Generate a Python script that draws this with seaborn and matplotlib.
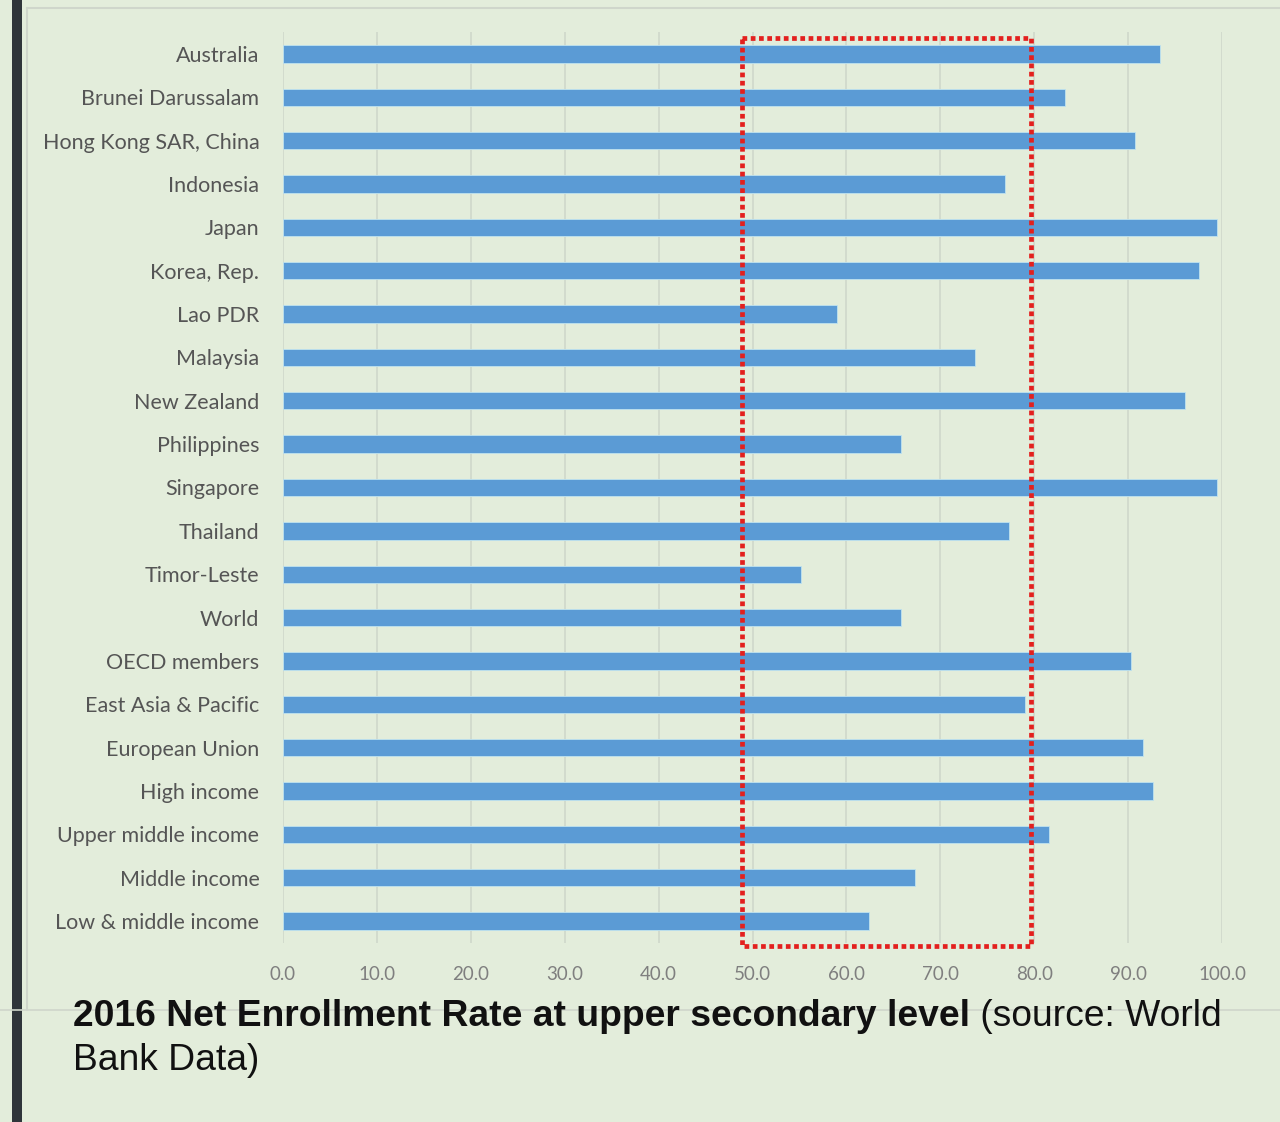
import matplotlib
matplotlib.use("Agg")
import matplotlib.pyplot as plt
import seaborn as sns
import pandas as pd
from matplotlib.patches import Rectangle
from matplotlib.lines import Line2D

countries = [
    "Australia", "Brunei Darussalam", "Hong Kong SAR, China", "Indonesia",
    "Japan", "Korea, Rep.", "Lao PDR", "Malaysia", "New Zealand",
    "Philippines", "Singapore", "Thailand", "Timor-Leste", "World",
    "OECD members", "East Asia & Pacific", "European Union", "High income",
    "Upper middle income", "Middle income", "Low & middle income",
]
enrollment = [
    93.4, 83.3, 90.7, 76.9, 99.5, 97.5, 59.0, 73.7, 96.1, 65.8, 99.5,
    77.3, 55.2, 65.8, 90.3, 79.0, 91.6, 92.7, 81.6, 67.3, 62.4,
]
x_ticks = [0, 10, 20, 30, 40, 50, 60, 70, 80, 90, 100]
highlight_range = [48.9, 79.7]

caption_bold = "2016 Net Enrollment Rate at upper secondary level"
caption_rest = " (source: World"
caption_line2 = "Bank Data)"

bg = "#e3eddb"
bar_color = "#5b9bd5"
label_color = "#555555"

df = pd.DataFrame({"country": countries, "rate": enrollment})

sns.set_theme(style="white")
plt.rcParams["font.family"] = ["Lato", "DejaVu Sans"]

W, H = 1280, 1122
fig = plt.figure(figsize=(W / 100, H / 100), dpi=100, facecolor=bg)

# panel frame and the dark strip at the left edge
fig.patches.append(Rectangle((12 / W, 0), 10 / W, 1, transform=fig.transFigure,
                             facecolor="#2f353a", edgecolor="none", zorder=0))
fig.lines.append(Line2D([27 / W, 1], [1 - 8 / H, 1 - 8 / H], transform=fig.transFigure,
                        color="#cfd6cb", lw=1.5))
fig.lines.append(Line2D([27 / W, 27 / W], [1 - 8 / H, 1 - 1010 / H], transform=fig.transFigure,
                        color="#cfd6cb", lw=1.5))
fig.lines.append(Line2D([0, 1], [1 - 1010 / H, 1 - 1010 / H], transform=fig.transFigure,
                        color="#cfd6cb", lw=1.2))

ax_left, ax_right = 283 / W, 1222 / W
ax_top, ax_bottom = 1 - 32.3 / H, 1 - 942.7 / H
ax = fig.add_axes([ax_left, ax_bottom, ax_right - ax_left, ax_top - ax_bottom])
ax.set_facecolor("none")

sns.barplot(data=df, x="rate", y="country", orient="h", color=bar_color,
            saturation=1, width=0.40, ax=ax, edgecolor="#bfe3f0", linewidth=0.6)

ax.set_xlim(0, 100)
ax.set_ylim(len(countries) - 0.5, -0.5)
ax.set_xticks(x_ticks)
ax.set_xticklabels([f"{v:.1f}" for v in x_ticks], fontsize=13.5, color="#7f7f7f")
ax.tick_params(axis="x", length=0, pad=17)
ax.tick_params(axis="y", length=0, pad=17, labelsize=15.5, labelcolor=label_color)
ax.set_xlabel("")
ax.set_ylabel("")
ax.grid(axis="x", color="#cdd6c9", lw=1.1)
ax.set_axisbelow(True)
for s in ax.spines.values():
    s.set_visible(False)

# dotted highlight box
x0, x1 = highlight_range
y_top, y_bot = -0.37, len(countries) - 0.42
rect = Rectangle((x0, y_top), x1 - x0, y_bot - y_top, fill=False,
                 edgecolor="#e3201e", lw=3.4, linestyle=(0, (1, 0.75)),
                 clip_on=False, zorder=5)
rect.set_capstyle("butt")
ax.add_patch(rect)

# caption
cap_font = ["Liberation Sans", "DejaVu Sans"]
y1 = 1 - 1016 / H
y2 = 1 - 1060 / H
t1 = fig.text(73 / W, y1, caption_bold, fontsize=26.8, fontweight="bold",
              family=cap_font, color="#111111", va="center", ha="left")
fig.canvas.draw()
bb = t1.get_window_extent()
fig.text(bb.x1 / W, y1, caption_rest, fontsize=26.8, family=cap_font,
         color="#111111", va="center", ha="left")
fig.text(73 / W, y2, caption_line2, fontsize=26.8, family=cap_font,
         color="#111111", va="center", ha="left")

fig.savefig("out.png", dpi=100, facecolor=bg)
